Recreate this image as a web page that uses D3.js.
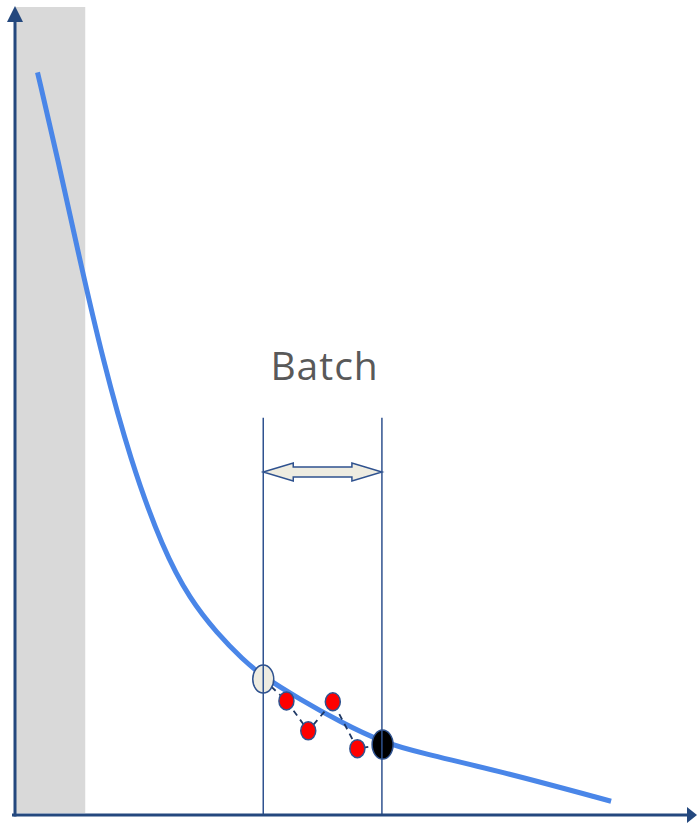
<html>
<head>
<title>Batch</title>
<script type="text/javascript" src="https://d3js.org/d3.v7.min.js"></script>
<style>body{margin:0;background:#fff;}</style>
</head>
<body>
<script type="text/javascript">

// loss curve (x, y) in arbitrary units 0..100
var curveX = [3.3, 6.3, 9.5, 12.9, 16.9, 21.7, 25.7, 29.6, 33.4, 36.4, 41.8, 47.7, 53.8, 59.4, 72.1, 87.4];
var curveY = [91.8, 81.0, 68.6, 56.2, 43.9, 32.8, 26.6, 22.5, 19.2, 17.1, 14.3, 11.5, 9.0, 7.7, 5.2, 1.7];

// batch samples
var sampleX = [39.8, 43.0, 46.6, 50.2];
var sampleY = [14.1, 10.4, 14.0, 8.2];
var startPt = [36.4, 16.8];
var endPt = [53.9, 8.7];

var batchEdges = [36.4, 53.8];
var batchTop = 49.1;
var batchArrowY = 42.4;
var shadeEdges = [0.1, 10.3];
var label = "Batch";

var W = 697, H = 825;
var xScale = d3.scaleLinear().domain([0,100]).range([15,697]);
var yScale = d3.scaleLinear().domain([0,100]).range([815,6]);

var svg = d3.select("body").append("svg")
            .attr("width",W).attr("height",H);

var axisColor = "#24487e";
var lineColor = "#2f528f";

// gray region
svg.append("rect")
   .attr("x",xScale(shadeEdges[0]))
   .attr("y",7)
   .attr("width",xScale(shadeEdges[1])-xScale(shadeEdges[0]))
   .attr("height",806)
   .attr("fill","#d9d9d9");

// curve
var pts = curveX.map(function(d,i){return [d,curveY[i]];});
var line = d3.line()
             .x(function(d){return xScale(d[0]);})
             .y(function(d){return yScale(d[1]);})
             .curve(d3.curveBasis);
svg.append("path")
   .attr("d",line(pts))
   .attr("fill","none")
   .attr("stroke","#4a86e8")
   .attr("stroke-width",5);

// dashed path through samples
var path = [startPt].concat(sampleX.map(function(d,i){return [d,sampleY[i]];})).concat([endPt]);
svg.append("path")
   .attr("d",d3.line().x(function(d){return xScale(d[0]);}).y(function(d){return yScale(d[1]);})(path))
   .attr("fill","none")
   .attr("stroke","#1f3864")
   .attr("stroke-width",1.8)
   .attr("stroke-dasharray","6,5");

svg.selectAll("ellipse.s")
   .data(sampleX).enter()
   .append("ellipse")
   .attr("cx",function(d){return xScale(d);})
   .attr("cy",function(d,i){return yScale(sampleY[i]);})
   .attr("rx",7.5).attr("ry",9)
   .attr("fill","#ff0000")
   .attr("stroke",lineColor).attr("stroke-width",1.5);

svg.append("ellipse")
   .attr("cx",xScale(startPt[0])).attr("cy",yScale(startPt[1]))
   .attr("rx",10.5).attr("ry",14)
   .attr("fill","#eeece1")
   .attr("stroke",lineColor).attr("stroke-width",1.5);

svg.append("ellipse")
   .attr("cx",xScale(endPt[0])).attr("cy",yScale(endPt[1]))
   .attr("rx",10.5).attr("ry",14.5)
   .attr("fill","#000")
   .attr("stroke",lineColor).attr("stroke-width",1.5);

// batch edges
svg.selectAll("line.edge")
   .data(batchEdges).enter()
   .append("line")
   .attr("x1",function(d){return xScale(d);})
   .attr("x2",function(d){return xScale(d);})
   .attr("y1",yScale(batchTop))
   .attr("y2",yScale(0))
   .attr("stroke",lineColor)
   .attr("stroke-width",1.5);

// double arrow
var ax0 = xScale(batchEdges[0]), ax1 = xScale(batchEdges[1]), ay = yScale(batchArrowY);
var hl = 30, hw = 9, sw = 5;
var arrowPts = [
  [ax0,ay],[ax0+hl,ay-hw],[ax0+hl,ay-sw],[ax1-hl,ay-sw],[ax1-hl,ay-hw],
  [ax1,ay],[ax1-hl,ay+hw],[ax1-hl,ay+sw],[ax0+hl,ay+sw],[ax0+hl,ay+hw]
];
svg.append("polygon")
   .attr("points",arrowPts.map(function(p){return p.join(",");}).join(" "))
   .attr("fill","#eeece1")
   .attr("stroke",lineColor)
   .attr("stroke-width",1.5)
   .attr("stroke-linejoin","miter");

svg.append("text")
   .attr("x",(ax0+ax1)/2 + 2)
   .attr("y",380)
   .attr("text-anchor","middle")
   .attr("font-family","'Open Sans', sans-serif")
   .attr("font-size",39)
   .attr("letter-spacing",1)
   .attr("fill","#595959")
   .text(label);

// axes
svg.append("line")
   .attr("x1",xScale(0)).attr("x2",xScale(0))
   .attr("y1",yScale(0)+1.5).attr("y2",20)
   .attr("stroke",axisColor).attr("stroke-width",3);
svg.append("polygon")
   .attr("points",[[xScale(0),6],[xScale(0)-8,22],[xScale(0)+8,22]].join(" "))
   .attr("fill",axisColor);
svg.append("line")
   .attr("x1",xScale(0)-3).attr("x2",688)
   .attr("y1",yScale(0)).attr("y2",yScale(0))
   .attr("stroke",axisColor).attr("stroke-width",3);
svg.append("polygon")
   .attr("points",[[697,yScale(0)],[687,yScale(0)-8],[687,yScale(0)+8]].join(" "))
   .attr("fill",axisColor);

</script>
</body>
</html>
